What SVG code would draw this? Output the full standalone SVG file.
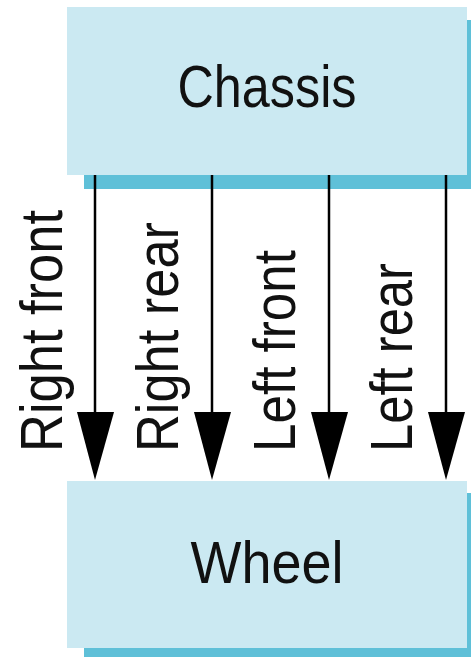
<svg xmlns="http://www.w3.org/2000/svg" width="471" height="657" viewBox="0 0 471 657">
<style>
.shadow{fill:#5fc0d8}
.box{fill:#cbe9f2}
.lbl{font-family:"Liberation Sans",Arial,sans-serif;font-size:60px;fill:#111}
.conn line{stroke:#000;stroke-width:2.5}
.conn polygon{fill:#000}
</style>
<rect width="471" height="657" fill="#fff"/>
<g id="chassis">
<rect class="shadow" x="84" y="20" width="387" height="169"/>
<rect class="box" x="67" y="7" width="400" height="168"/>
<text class="lbl" x="267" y="107" text-anchor="middle" textLength="179" lengthAdjust="spacingAndGlyphs" font-size="61">Chassis</text>
</g>
<g id="wheel">
<rect class="shadow" x="84" y="493" width="387" height="164"/>
<rect class="box" x="67" y="481" width="400" height="167"/>
<text class="lbl" x="267" y="583" text-anchor="middle" textLength="153" lengthAdjust="spacingAndGlyphs" font-size="62">Wheel</text>
</g>
<g id="connectors" class="conn">
<line x1="95" y1="175" x2="95" y2="414"/>
<polygon points="77,412 114,412 95,480"/>
<line x1="212" y1="175" x2="212" y2="414"/>
<polygon points="194,412 231,412 212,480"/>
<line x1="329" y1="175" x2="329" y2="414"/>
<polygon points="311,412 348,412 329,480"/>
<line x1="446" y1="175" x2="446" y2="414"/>
<polygon points="428,412 465,412 446,480"/>
</g>
<g id="labels">
<text class="lbl" transform="translate(62,452) rotate(-90)" textLength="242" lengthAdjust="spacingAndGlyphs">Right front</text>
<text class="lbl" transform="translate(178,452) rotate(-90)" textLength="230" lengthAdjust="spacingAndGlyphs">Right rear</text>
<text class="lbl" transform="translate(295,452) rotate(-90)" textLength="202" lengthAdjust="spacingAndGlyphs">Left front</text>
<text class="lbl" transform="translate(412,452) rotate(-90)" textLength="189" lengthAdjust="spacingAndGlyphs">Left rear</text>
</g>
</svg>
